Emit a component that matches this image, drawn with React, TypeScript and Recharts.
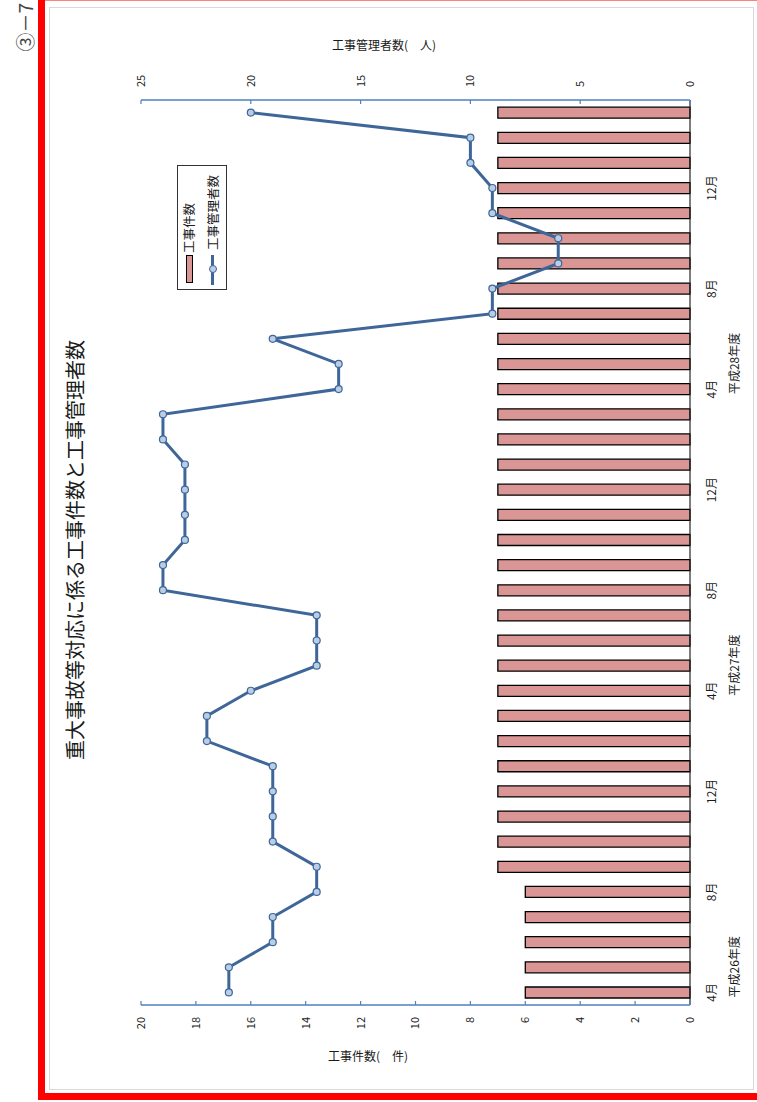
import { ComposedChart, Bar, Line, XAxis, YAxis } from 'recharts';

// 月（年度ごとに4月始まり）
const MONTHS = ['4月', '5月', '6月', '7月', '8月', '9月', '10月', '11月', '12月', '1月', '2月', '3月'];
const FISCAL_YEARS = ['平成26年度', '平成27年度', '平成28年度'];
const LABELED_MONTHS = ['4月', '8月', '12月'];

// 工事件数（件）
const KOUJI_KENSU = [
  6, 6, 6, 6, 6, 7, 7, 7, 7, 7, 7, 7,
  7, 7, 7, 7, 7, 7, 7, 7, 7, 7, 7, 7,
  7, 7, 7, 7, 7, 7, 7, 7, 7, 7, 7, 7,
];

// 工事管理者数（人）
const KANRISHA_SU = [
  21, 21, 19, 19, 17, 17, 19, 19, 19, 19, 22, 22,
  20, 17, 17, 17, 24, 24, 23, 23, 23, 23, 24, 24,
  16, 16, 19, 9, 9, 6, 6, 9, 9, 10, 10, 20,
];

const KENSU_TICKS = [0, 2, 4, 6, 8, 10, 12, 14, 16, 18, 20];
const KANRISHA_TICKS = [0, 5, 10, 15, 20, 25];

const data = KANRISHA_SU.map((v, i) => ({
  key: `${FISCAL_YEARS[Math.floor(i / 12)]}-${MONTHS[i % 12]}`,
  kensu: KOUJI_KENSU[i],
  kanrisha: v,
}));

const FONT = "'Noto Sans CJK JP', 'Noto Sans', sans-serif";
const AXIS_BLUE = '#4f81bd';
const LINE_BLUE = '#3e6699';
const BAR_PINK = '#d99694';
const TEXT = '#1a1a1a';

// chart is laid out unrotated (1102 x 757) then turned -90deg onto the page
const W = 1102;
const H = 757;

function MonthTick(props: any) {
  const { x, y, payload } = props;
  const i: number = props.index ?? payload.index;
  const m = MONTHS[i % 12];
  return (
    <g>
      {LABELED_MONTHS.includes(m) && (
        <text x={x} y={y + 20} textAnchor="middle" dominantBaseline="central"
          fontSize={12} fill={TEXT} fontFamily={FONT}>
          {m}
        </text>
      )}
      {i % 12 === 0 && (
        <text x={x - 5} y={y + 43} textAnchor="start" dominantBaseline="central"
          fontSize={12} fill={TEXT} fontFamily={FONT}>
          {FISCAL_YEARS[i / 12]}
        </text>
      )}
    </g>
  );
}

export default function App() {
  return (
    <div style={{
      position: 'absolute', left: 0, top: 0, width: 757, height: 1102,
      overflow: 'hidden', background: '#fff', fontFamily: FONT,
    }}>
      {/* page frame */}
      <div style={{ position: 'absolute', left: 38, top: 0, width: 7, height: 1100, background: '#ff0000' }} />
      <div style={{ position: 'absolute', left: 38, top: 1093, width: 719, height: 7, background: '#ff0000' }} />
      <div style={{ position: 'absolute', left: 45, top: 0, width: 712, height: 1, background: '#ff8080' }} />
      <div style={{
        position: 'absolute', left: 49, top: 7, width: 705, height: 1083,
        border: '1.5px solid #d9d9d9', boxSizing: 'border-box',
      }} />

      {/* axis titles (horizontal on the page) */}
      <div style={{
        position: 'absolute', left: 284, top: 37, width: 200, textAlign: 'center',
        fontSize: 12, lineHeight: '16px', color: TEXT,
      }}>
        工事管理者数(　人)
      </div>
      <div style={{
        position: 'absolute', left: 268, top: 1048, width: 200, textAlign: 'center',
        fontSize: 12, lineHeight: '16px', color: TEXT,
      }}>
        工事件数(　件)
      </div>

      {/* rotated chart */}
      <div style={{
        position: 'absolute', left: 0, top: 0, width: W, height: H,
        transformOrigin: '0 0', transform: `translateY(${W}px) rotate(-90deg)`,
      }}>
        <div style={{
          position: 'absolute', right: 3, top: 13, fontSize: 19, lineHeight: '24px', color: '#444',
        }}>
          ③－7
        </div>
        <div style={{
          position: 'absolute', left: 252, top: 62, width: 600, textAlign: 'center',
          fontSize: 20, lineHeight: '26px', color: TEXT,
        }}>
          重大事故等対応に係る工事件数と工事管理者数
        </div>

        <div style={{ position: 'absolute', left: 0, top: 0 }}>
          <ComposedChart
            width={W}
            height={H}
            data={data}
            margin={{ top: 141, right: 40, bottom: 27, left: 37 }}
          >
            <XAxis
              dataKey="key"
              interval={0}
              height={40}
              tickLine={false}
              tickSize={0}
              tickMargin={0}
              axisLine={{ stroke: '#262626', strokeWidth: 1.2 }}
              tick={<MonthTick />}
            />
            <YAxis
              yAxisId="kensu"
              orientation="left"
              width={60}
              domain={[0, 20]}
              ticks={KENSU_TICKS}
              interval={0}
              axisLine={{ stroke: AXIS_BLUE, strokeWidth: 1.5 }}
              tickLine={{ stroke: AXIS_BLUE, strokeWidth: 1.2 }}
              tickSize={-4}
              tickMargin={16}
              tick={{ fontSize: 11, fill: TEXT, fontFamily: FONT }}
            />
            <YAxis
              yAxisId="kanrisha"
              orientation="right"
              width={60}
              domain={[0, 25]}
              ticks={KANRISHA_TICKS}
              interval={0}
              axisLine={{ stroke: AXIS_BLUE, strokeWidth: 1.5 }}
              tickLine={{ stroke: AXIS_BLUE, strokeWidth: 1.2 }}
              tickSize={-4}
              tickMargin={17}
              tick={{ fontSize: 11, fill: TEXT, fontFamily: FONT }}
            />
            <Bar
              yAxisId="kensu"
              dataKey="kensu"
              barSize={11}
              fill={BAR_PINK}
              stroke="#000"
              strokeWidth={1.3}
              isAnimationActive={false}
            />
            <Line
              yAxisId="kanrisha"
              dataKey="kanrisha"
              type="linear"
              stroke={LINE_BLUE}
              strokeWidth={3}
              dot={{ r: 3.5, fill: '#b9cde5', stroke: LINE_BLUE, strokeWidth: 1.2 }}
              activeDot={false}
              isAnimationActive={false}
            />
          </ComposedChart>
        </div>

        {/* legend */}
        <div style={{
          position: 'absolute', left: 812, top: 177, width: 125, height: 50,
          border: '1.5px solid #333', boxSizing: 'border-box', background: '#fff',
        }}>
          <div style={{
            position: 'absolute', left: 6, top: 8, width: 28, height: 7,
            background: BAR_PINK, border: '1px solid #000', boxSizing: 'border-box',
          }} />
          <div style={{ position: 'absolute', left: 36, top: 3, fontSize: 12.5, lineHeight: '16px', color: TEXT, whiteSpace: 'nowrap' }}>
            工事件数
          </div>
          <div style={{
            position: 'absolute', left: 4, top: 33, width: 30, height: 3, background: LINE_BLUE,
          }} />
          <div style={{
            position: 'absolute', left: 16, top: 30.5, width: 8, height: 8, borderRadius: '50%',
            background: '#b9cde5', border: `1.2px solid ${LINE_BLUE}`, boxSizing: 'border-box',
          }} />
          <div style={{ position: 'absolute', left: 39, top: 27, fontSize: 12.5, lineHeight: '16px', color: TEXT, whiteSpace: 'nowrap' }}>
            工事管理者数
          </div>
        </div>
      </div>
    </div>
  );
}
